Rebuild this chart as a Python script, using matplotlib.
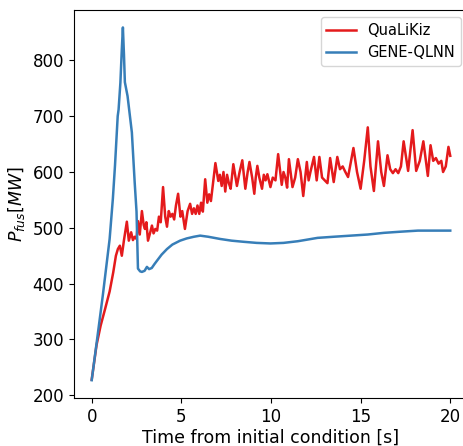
import numpy as np
import matplotlib.pyplot as plt

# QuaLiKiz fusion power trace
t_qlk = [0, 0.27, 0.5, 0.75, 1.0, 1.2, 1.35, 1.46, 1.57, 1.68, 1.8, 1.96, 2.07, 2.2, 2.3,
         2.4, 2.5, 2.58, 2.68, 2.8, 2.9, 2.97, 3.05, 3.14, 3.25, 3.36, 3.45, 3.55, 3.65, 3.75,
         3.85, 3.98, 4.1, 4.2, 4.3, 4.4, 4.5, 4.6, 4.7, 4.82, 4.95, 5.05, 5.2, 5.35, 5.49,
         5.6, 5.7, 5.8, 5.9, 6.0, 6.1, 6.2, 6.33, 6.45, 6.55, 6.65, 6.75, 6.9, 7.06, 7.15,
         7.25, 7.35, 7.45, 7.55, 7.65, 7.75, 7.9, 8.1, 8.25, 8.4, 8.57, 8.7, 8.8, 8.95, 9.07,
         9.15, 9.24, 9.35, 9.5, 9.6, 9.7, 9.8, 9.97, 10.1, 10.25, 10.4, 10.6, 10.7, 10.8, 10.9,
         11.0, 11.2, 11.35, 11.5, 11.65, 11.8, 12.0, 12.1, 12.2, 12.4, 12.55, 12.7, 12.85, 13.0,
         13.15, 13.3, 13.5, 13.7, 13.85, 14.0, 14.15, 14.3, 14.6, 14.8, 15.0, 15.2, 15.4, 15.55,
         15.74, 15.97, 16.15, 16.3, 16.5, 16.65, 16.8, 16.95, 17.1, 17.25, 17.4, 17.65, 17.9,
         18.1, 18.3, 18.5, 18.75, 18.9, 19.05, 19.2, 19.35, 19.5, 19.6, 19.75, 19.9, 20.0]
p_qlk = [228, 290, 325, 355, 386, 420, 450, 462, 468, 450, 478, 511, 477, 492, 478,
         484, 480, 512, 488, 530, 505, 498, 510, 477, 490, 504, 490, 498, 495, 520,
         510, 573, 520, 502, 530, 520, 525, 515, 540, 561, 520, 530, 498, 530, 543,
         525, 535, 525, 540, 525, 545, 529, 587, 545, 560, 548, 575, 616, 584, 595,
         575, 600, 565, 595, 580, 570, 614, 575, 600, 621, 570, 600, 618, 590, 561,
         590, 611, 590, 570, 595, 585, 596, 573, 590, 585, 632, 577, 600, 590, 572,
         623, 573, 590, 623, 600, 557, 618, 585, 600, 627, 585, 627, 590, 585,
         580, 625, 582, 627, 605, 610, 600, 591, 643, 600, 570, 620, 680, 610,
         566, 655, 600, 575, 630, 605, 598, 605, 598, 610, 655, 602, 675,
         602, 620, 655, 593, 648, 620, 625, 615, 620, 600, 610, 645, 629]

# GENE-QLNN fusion power trace
t_nn = [0, 0.3, 0.62, 1.0, 1.18, 1.3, 1.45, 1.5, 1.6, 1.68, 1.74, 1.8, 1.85, 2.0, 2.24,
        2.4, 2.5, 2.58, 2.7, 2.8, 2.95, 3.08, 3.2, 3.35, 3.5, 3.64, 3.9, 4.2, 4.5, 4.93,
        5.3, 5.7, 6.05, 6.5, 7.17, 7.8, 8.46, 9.2, 9.97, 10.7, 11.5, 12.6, 13.5, 14.45,
        15.4, 16.3, 17.2, 18.2, 19.1, 20.0]
p_nn = [227, 300, 379, 480, 552, 612, 700, 712, 760, 820, 859, 810, 761, 736, 671,
        580, 529, 427, 422, 421, 423, 430, 426, 428, 435, 441, 452, 462, 470, 477,
        481, 484, 486, 484, 480, 477, 475, 473, 472, 473, 476, 482, 484, 486,
        488, 491, 493, 495, 495, 495]

fig = plt.figure(figsize=(4.64, 4.46), dpi=100)
ax = fig.add_axes([0.159, 0.108, 0.85, 0.87])

ax.plot(t_qlk, p_qlk, color='#e41a1c', lw=1.8, label='QuaLiKiz')
ax.plot(t_nn, p_nn, color='#377eb8', lw=1.8, label='GENE-QLNN')

ax.set_xlabel('Time from initial condition [s]', fontsize=12.5, labelpad=2)
ax.set_ylabel(r'$P_{fus} [MW]$', fontsize=12.5)
ax.tick_params(labelsize=12)
ax.set_xticks([0, 5, 10, 15, 20])
ax.set_yticks([200, 300, 400, 500, 600, 700, 800])
ax.legend(loc='upper right', fontsize=10.5)

fig.savefig('out.png', dpi=100)
